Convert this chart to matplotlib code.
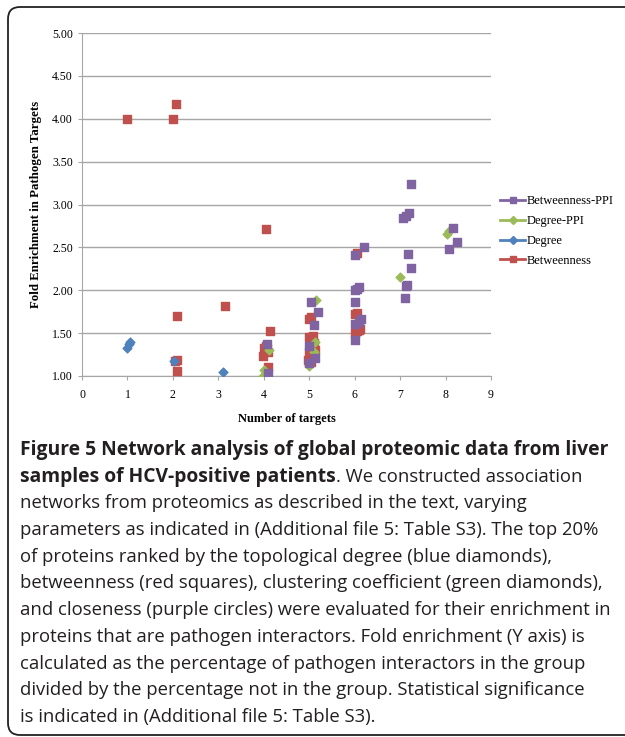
import matplotlib
matplotlib.use("Agg")
import matplotlib.pyplot as plt
from matplotlib.lines import Line2D
from matplotlib.patches import FancyBboxPatch

# Fold enrichment vs. number of targets, one pair of lists per series
btw_x = [1.0, 2.0, 2.07, 2.1, 3.15, 4.05, 2.05, 2.08, 2.1,
         4.13, 4.0, 4.05, 3.98, 4.1, 4.1, 4.05,
         5.0, 5.05, 5.08, 5.0, 5.1, 5.0, 5.05, 4.98, 5.1, 5.05, 5.12,
         6.05, 6.0, 6.05, 6.1, 6.05, 6.12, 6.0]
btw_y = [4.00, 4.00, 4.17, 1.70, 1.82, 2.72, 1.17, 1.19, 1.06,
         1.52, 1.33, 1.35, 1.23, 1.28, 1.11, 1.03,
         1.67, 1.69, 1.47, 1.45, 1.38, 1.28, 1.25, 1.19, 1.22, 1.16, 1.30,
         2.43, 1.72, 1.74, 1.54, 1.52, 1.55, 1.50]

deg_x = [1.0, 1.03, 1.05, 2.03, 3.1, 4.08, 5.0]
deg_y = [1.33, 1.37, 1.40, 1.17, 1.05, 1.02, 1.15]

degppi_x = [3.98, 4.0, 4.12, 4.08, 5.0, 5.12, 5.15, 5.1, 7.0, 8.03, 8.08]
degppi_y = [1.00, 1.07, 1.30, 1.36, 1.12, 1.40, 1.89, 1.28, 2.16, 2.66, 2.69]

btwppi_x = [4.08, 4.1, 5.05, 5.2, 5.1, 5.0, 5.12, 5.0,
            6.0, 6.2, 6.0, 6.05, 6.1, 6.0, 6.15, 6.1, 6.0, 6.0,
            7.07, 7.13, 7.2, 7.23, 7.18, 7.25, 7.12, 7.16, 7.1,
            8.07, 8.16, 8.26]
btwppi_y = [1.37, 1.03, 1.86, 1.75, 1.59, 1.35, 1.21, 1.15,
            2.41, 2.50, 2.00, 2.02, 2.04, 1.86, 1.66, 1.63, 1.61, 1.42,
            2.84, 2.87, 2.90, 3.24, 2.42, 2.26, 2.05, 2.06, 1.91,
            2.48, 2.73, 2.56]

fig = plt.figure(figsize=(6.25, 7.37), dpi=100)
ax = fig.add_axes([82/625, 1-376/737, (491-82)/625, (376-33)/737])

blue, red, green, purple = '#4F81BD', '#C0504D', '#9BBB59', '#8064A2'
ax.scatter(btw_x, btw_y, marker='s', s=26, color=red, zorder=3)
ax.scatter(deg_x, deg_y, marker='D', s=20, color=blue, zorder=3)
ax.scatter(degppi_x, degppi_y, marker='D', s=20, color=green, zorder=3)
ax.scatter(btwppi_x, btwppi_y, marker='s', s=26, color=purple, zorder=3)

ax.set_xlim(0, 9)
ax.set_ylim(1, 5)
ax.set_xticks(range(10))
ax.set_yticks([1 + 0.5*i for i in range(9)])
ax.set_yticklabels(['%.2f' % (1 + 0.5*i) for i in range(9)])
ax.grid(axis='y', color='#a6a6a6', lw=1)
ax.set_axisbelow(True)
for s in ['top', 'right']:
    ax.spines[s].set_visible(False)
for s in ['left', 'bottom']:
    ax.spines[s].set_color('#a6a6a6')
ax.tick_params(colors='#a6a6a6', labelcolor='black', labelsize=8.5, length=3)
ax.tick_params(axis='x', pad=6)
for lab in ax.get_xticklabels() + ax.get_yticklabels():
    lab.set_family('Liberation Serif')
ax.set_xlabel('Number of targets', family='Liberation Serif', fontweight='bold',
              fontsize=9, labelpad=9)
ax.set_ylabel('Fold Enrichment in Pathogen Targets', family='Liberation Serif',
              fontweight='bold', fontsize=9.3, labelpad=7)

handles = [Line2D([], [], color=purple, marker='s', ms=5, lw=2),
           Line2D([], [], color=green, marker='D', ms=4.5, lw=2),
           Line2D([], [], color=blue, marker='D', ms=4.5, lw=2),
           Line2D([], [], color=red, marker='s', ms=5, lw=2)]
fig.legend(handles, ['Betweenness-PPI', 'Degree-PPI', 'Degree', 'Betweenness'],
           loc='center left', bbox_to_anchor=(500/625, 1-231/737), frameon=False,
           prop={'family': 'Liberation Serif', 'size': 9},
           handlelength=2.0, handletextpad=0.1, labelspacing=0.62, borderpad=0,
           borderaxespad=0)

# overlay in pixel units for border and caption
ov = fig.add_axes([0, 0, 1, 1], zorder=-1)
ov.set_xlim(0, 625)
ov.set_ylim(737, 0)
ov.axis('off')
ov.add_patch(FancyBboxPatch((8, 7), 700, 728, boxstyle='round,pad=0,rounding_size=12',
                            fc='none', ec='#222222', lw=1.3))

ov2 = fig.add_axes([0, 0, 1, 1])
ov2.set_xlim(0, 625)
ov2.set_ylim(737, 0)
ov2.axis('off')
ov2.patch.set_alpha(0)

cap_font = 'Open Sans'
sizes = {'bold': 13.9, 'normal': 13.3}
lines = [
    [("Figure 5 Network analysis of global proteomic data from liver", 'bold')],
    [("samples of HCV-positive patients", 'bold'), (". We constructed association", 'normal')],
    [("networks from proteomics as described in the text, varying", 'normal')],
    [("parameters as indicated in (Additional file 5: Table S3). The top 20%", 'normal')],
    [("of proteins ranked by the topological degree (blue diamonds),", 'normal')],
    [("betweenness (red squares), clustering coefficient (green diamonds),", 'normal')],
    [("and closeness (purple circles) were evaluated for their enrichment in", 'normal')],
    [("proteins that are pathogen interactors. Fold enrichment (Y axis) is", 'normal')],
    [("calculated as the percentage of pathogen interactors in the group", 'normal')],
    [("divided by the percentage not in the group. Statistical significance", 'normal')],
    [("is indicated in (Additional file 5: Table S3).", 'normal')],
]
renderer = fig.canvas.get_renderer()
y0, dy = 450, 26.7
for i, parts in enumerate(lines):
    x = 20
    for txt, w in parts:
        t = ov2.text(x, y0 + i*dy, txt, family=cap_font, fontweight=w,
                     fontsize=sizes[w], va='center', ha='left', color='#231f20')
        bb = t.get_window_extent(renderer=renderer)
        x += bb.width

fig.savefig('out.png', dpi=100)
